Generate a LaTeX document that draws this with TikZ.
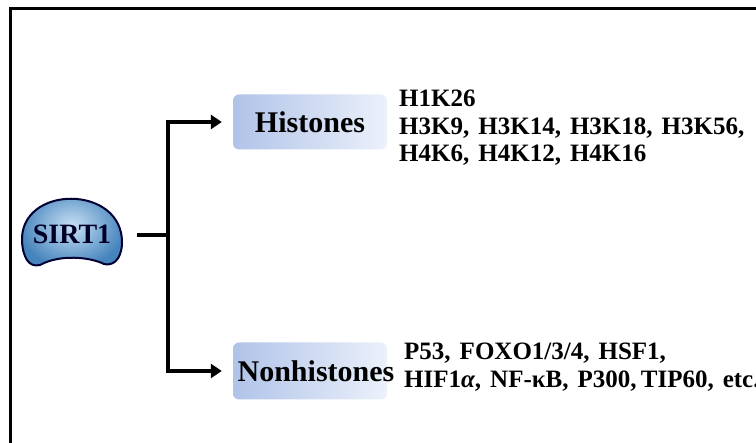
\documentclass[tikz,border=0pt]{standalone}
\usepackage{fontspec}
\setmainfont{Liberation Serif}
\usepackage{xcolor}
\usepackage{tikz}
\usetikzlibrary{arrows.meta,positioning}
\definecolor{beanlight}{RGB}{200,225,245}
\definecolor{beandark}{RGB}{70,132,188}
\definecolor{boxleft}{RGB}{176,195,232}
\definecolor{boxright}{RGB}{236,241,251}
\newcommand\widespaces{\spaceskip=0.36em plus 0.1em\relax}
\tikzset{
  frame line/.style={
    line width=3pt,black
  },
  link/.style={
    line width=3.3pt,black
  },
  link arrow/.style={
    link,-{Triangle[length=11pt,width=14pt]},shorten >=11pt
  },
  class box/.style={
    rounded corners=6pt,inner sep=0pt,
    left color=boxleft,right color=boxright,
    minimum width=154pt,minimum height=55pt,
    font=\fontsize{30}{34}\selectfont\bfseries
  },
  site list/.style={
    anchor=north west,inner sep=0pt,align=left,
    font=\fontsize{25}{27.5}\selectfont\bfseries
  }
}
\begin{document}
\begin{tikzpicture}[x=1pt,y=-1pt]
  \useasboundingbox (0,0) rectangle (756,443);
  \fill[white] (0,0) rectangle (756,443);
  \draw[frame line] (10,444) -- (10,8.5) -- (760,8.5);

  \shade[inner color=beanlight,outer color=beandark,draw=black!80!blue,line width=2pt]
    (22,242) .. controls (19,184) and (124,184) .. (122,244)
    .. controls (121,261) and (112,266) .. (104,264)
    .. controls (90,257) and (60,254) .. (40,265)
    .. controls (28,268) and (23,256) .. (22,242) -- cycle;
  \node[inner sep=0pt,minimum width=104pt,font=\fontsize{28}{30}\selectfont\bfseries,
    text=black!85!blue] (sirt) at (72,234) {SIRT1};

  \node[class box] (hist) at (310,122) {\makebox[0pt]{Histones}};
  \node[class box,minimum height=57pt] (nonhist) at (310,371)
    {\makebox[0pt]{\hspace{12pt}Nonhistones}};

  \coordinate (br) at (168,235);
  \draw[link] ([xshift=13pt]sirt.east |- br) -- (br);
  \draw[link arrow] (br) |- (hist.west);
  \draw[link arrow] (br) |- (nonhist.west);

  \node[site list] (histsites) at (399,90)
    {\widespaces H1K26\\\widespaces H3K9, H3K14, H3K18, H3K56,\\\widespaces H4K6, H4K12, H4K16};
  \node[site list] (nonhistsites) at (404,343)
    {\widespaces P53, FOXO1/3/4, HSF1,\\\widespaces HIF1\textit{α}, NF-κB, P300,\,TIP60, etc.};
\end{tikzpicture}
\end{document}
